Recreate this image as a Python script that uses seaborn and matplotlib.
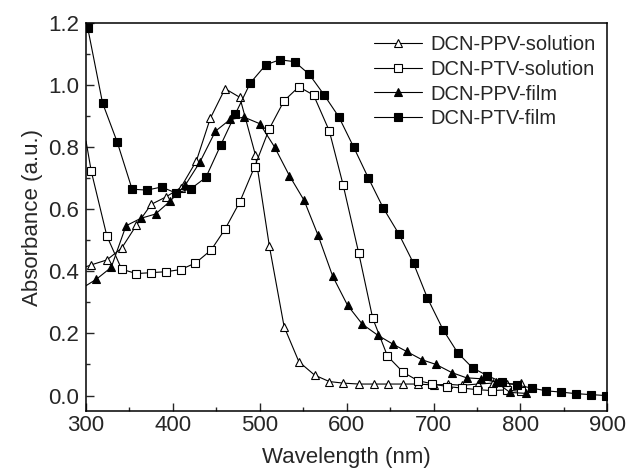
import matplotlib
matplotlib.use("Agg")
import matplotlib.pyplot as plt
import seaborn as sns
from matplotlib.ticker import MultipleLocator

# first point of each series is where the line meets the y axis (no marker there)
ppv_sol_x = [300, 306, 324, 341, 358, 375, 392, 409, 427, 443, 460, 477, 495, 511, 528, 545, 563,
             580, 596, 614, 631, 648, 665, 682, 700, 717, 733, 751, 768, 785, 801]
ppv_sol_y = [0.415, 0.421, 0.437, 0.475, 0.549, 0.616, 0.640, 0.670, 0.756, 0.893, 0.989, 0.961,
             0.775, 0.482, 0.222, 0.109, 0.066, 0.045, 0.040, 0.037, 0.037, 0.037, 0.037, 0.037,
             0.034, 0.036, 0.033, 0.037, 0.040, 0.036, 0.040]

ptv_sol_x = [300, 306, 324, 341, 358, 375, 392, 409, 426, 444, 460, 477, 494, 511, 528, 545, 562,
             580, 596, 614, 630, 647, 665, 682, 698, 715, 733, 750, 767, 784, 801]
ptv_sol_y = [0.82, 0.723, 0.514, 0.407, 0.393, 0.396, 0.399, 0.406, 0.427, 0.469, 0.536, 0.624,
             0.737, 0.860, 0.950, 0.995, 0.968, 0.853, 0.678, 0.458, 0.249, 0.127, 0.075, 0.048,
             0.038, 0.029, 0.024, 0.019, 0.016, 0.018, 0.013]

ppv_film_x = [300, 312, 329, 346, 363, 380, 397, 414, 431, 449, 466, 482, 500, 517, 534, 551, 567,
              584, 601, 618, 636, 653, 669, 687, 703, 721, 738, 755, 772, 788, 806]
ppv_film_y = [0.354, 0.375, 0.413, 0.547, 0.571, 0.585, 0.627, 0.677, 0.752, 0.852, 0.890, 0.897,
              0.876, 0.801, 0.709, 0.629, 0.517, 0.384, 0.291, 0.230, 0.194, 0.166, 0.142, 0.115,
              0.100, 0.074, 0.057, 0.054, 0.043, 0.010, 0.007]

ptv_film_x = [300, 302, 319, 336, 353, 370, 387, 404, 421, 438, 455, 472, 489, 507, 523, 540, 557,
              574, 591, 608, 625, 642, 660, 677, 693, 711, 728, 745, 762, 779, 796, 813, 830, 847,
              864, 881, 898]
ptv_film_y = [1.20, 1.184, 0.943, 0.816, 0.665, 0.662, 0.672, 0.652, 0.667, 0.703, 0.807, 0.908,
              1.007, 1.066, 1.082, 1.076, 1.035, 0.969, 0.898, 0.801, 0.701, 0.605, 0.521, 0.426,
              0.314, 0.212, 0.137, 0.089, 0.064, 0.043, 0.034, 0.024, 0.015, 0.011, 0.006, 0.003,
              0.0]

sns.set_style("ticks")
plt.rcParams['font.family'] = ['Liberation Sans', 'DejaVu Sans']

fig, ax = plt.subplots(figsize=(6.28, 4.73), dpi=100)
fig.subplots_adjust(left=0.137, right=0.967, top=0.951, bottom=0.131)

series = [
    (ppv_sol_x, ppv_sol_y, "DCN-PPV-solution", "^", "white", 6.3),
    (ptv_sol_x, ptv_sol_y, "DCN-PTV-solution", "s", "white", 5.2),
    (ppv_film_x, ppv_film_y, "DCN-PPV-film", "^", "black", 6.3),
    (ptv_film_x, ptv_film_y, "DCN-PTV-film", "s", "black", 5.2),
]
for xs, ys, name, mk, fc, ms in series:
    sns.lineplot(x=xs, y=ys, ax=ax, color="black", linewidth=0.8, marker=mk,
                 markersize=ms, markerfacecolor=fc, markeredgecolor="black",
                 markeredgewidth=0.8, markevery=slice(1, None), label=name, sort=False)

ax.set_xlim(300, 900)
ax.set_ylim(-0.05, 1.2)
ax.xaxis.set_major_locator(MultipleLocator(100))
ax.xaxis.set_minor_locator(MultipleLocator(50))
ax.yaxis.set_major_locator(MultipleLocator(0.2))
ax.yaxis.set_minor_locator(MultipleLocator(0.1))
ax.yaxis.set_major_formatter(matplotlib.ticker.FormatStrFormatter("%.1f"))
ax.tick_params(which="major", direction="in", length=6, width=1, labelsize=16, pad=5)
ax.tick_params(axis="x", which="major", pad=3)
ax.tick_params(which="minor", direction="in", length=3, width=1)
for s in ax.spines.values():
    s.set_linewidth(1.1)
    s.set_color("black")

ax.set_xlabel("Wavelength (nm)", fontsize=16, labelpad=8)
ax.set_ylabel("Absorbance (a.u.)", fontsize=16, labelpad=4)

ax.legend(loc="upper right", frameon=False, fontsize=14.5, handlelength=2.4,
          handletextpad=0.4, labelspacing=0.28, borderaxespad=0.2)

fig.savefig("out.png", dpi=100)
